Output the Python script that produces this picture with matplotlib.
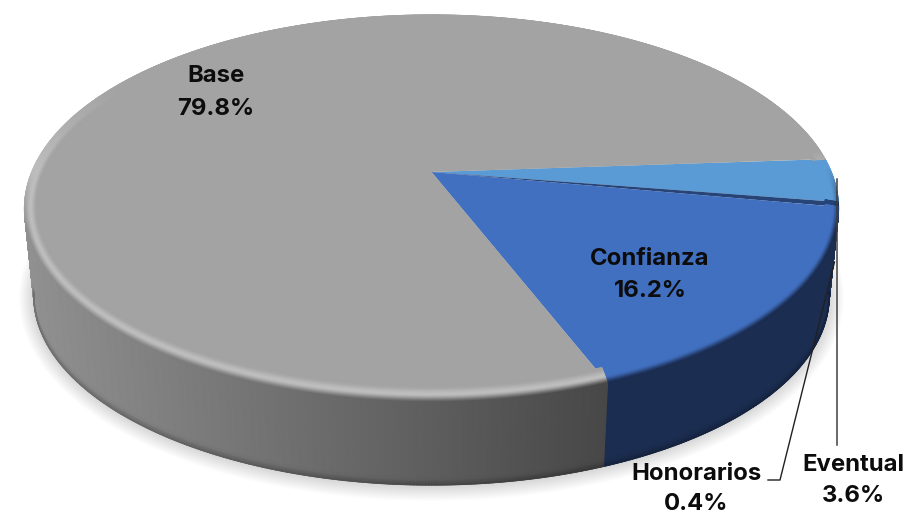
import numpy as np
import matplotlib
matplotlib.use('Agg')
import matplotlib.pyplot as plt
from matplotlib.collections import LineCollection

# clockwise from the start angle
labels = ['Eventual', 'Honorarios', 'Confianza', 'Base']
shares = [3.6, 0.4, 16.2, 79.8]
pct_text = ['3.6%', '0.4%', '16.2%', '79.8%']

face_colors = ['#5b9bd5', '#264478', '#4270c0', '#a3a3a3']
wall_colors = ['#24406a', '#14233f', '#1b2d50', None]
highlight = [1.0, 1.0, 1.0, 1.17]
# baselines of the two text rows
label_pos = [(853.5, 471, 502), (696.5, 480, 510), (650, 265, 297), (216, 82, 115)]

START = -4.0
APEX_X, APEX_Y = 431.5, 172.0
A, B, K = 399.7, 186.7, 0.189
BEV_X, BEV_Y = 13.0, 17.0
DEPTH, SHRINK = 88.0, 0.977


def rgb(c):
    return np.array(matplotlib.colors.to_rgb(c))


def top_xy(t, u=0.0):
    x, y = np.cos(t), np.sin(t)
    w = 1 - K * y
    return APEX_X + (A - BEV_X * u) * x / w, APEX_Y + (B - BEV_Y * u * (1 - K)) * y / w


def low_xy(t, grow_x=0.0, grow_y=0.0):
    x, y = top_xy(t)
    x = APEX_X + (x - APEX_X) * SHRINK
    y = APEX_Y + (y - APEX_Y) * SHRINK + DEPTH
    # grow_* are used by the drop shadow only
    return x + grow_x * np.cos(t), y + grow_y * np.sin(t)


def wall_rgb(i, t):
    # t has any shape, result is (..., 3)
    if wall_colors[i] is not None:
        return np.ones(t.shape + (3,)) * rgb(wall_colors[i])
    x, _ = top_xy(t)
    g = (144 - 72 * (x - 30) / 573) / 255
    g = np.clip(g, 0.25, 0.6)
    return np.stack([g, g, g], axis=-1)


def edge_line(ax, x, y, cols, lw, z):
    pts = np.column_stack([x, y]).reshape(-1, 1, 2)
    segs = np.concatenate([pts[:-1], pts[1:]], axis=1)
    ax.add_collection(LineCollection(segs, colors=cols[:-1], linewidths=lw, zorder=z, capstyle='round'))


fig = plt.figure(figsize=(9.09, 5.14), dpi=100)
ax = fig.add_axes([0, 0, 1, 1])
ax.set_xlim(0, 909)
ax.set_ylim(514, 0)
ax.axis('off')

# soft shadow under the pie
circle = np.linspace(0, 2 * np.pi, 361)
for g in np.linspace(15, 0, 14):
    sx, sy = low_xy(circle, g, g)
    ax.fill(sx, sy + 1, color='black', alpha=0.013, lw=0, zorder=1)

edges = np.radians(START + np.concatenate([[0], np.cumsum(shares)]) * 3.6)

u_steps = np.linspace(0, 1, 25)
s_steps = np.linspace(0, 1, 21)
for i in range(len(shares)):
    t = np.linspace(edges[i], edges[i + 1], max(8, int(shares[i] * 10)))

    # side wall, only the part that faces the viewer
    front = t[np.sin(t) >= K - 0.02]
    if len(front) > 1:
        tt, ss = np.meshgrid(front, s_steps)
        x0, y0 = top_xy(tt)
        x1, y1 = low_xy(tt)
        wx = x0 + (x1 - x0) * ss
        wy = y0 + (y1 - y0) * ss
        col = wall_rgb(i, tt)
        dark = 1 - 0.25 * np.clip((ss - 0.94) / 0.06, 0, 1)
        col = col * dark[..., None]
        ax.pcolormesh(wx, wy, col, shading='gouraud', zorder=2)
        bx, by = low_xy(front)
        edge_line(ax, bx, by, wall_rgb(i, front) * 0.78, 1.0, 2.1)

    # flat top
    fx, fy = top_xy(t)
    ax.fill(np.r_[APEX_X, fx], np.r_[APEX_Y, fy], color=face_colors[i], lw=0, zorder=3)

    # rounded rim, only visible where the edge turns towards the viewer
    tt, uu = np.meshgrid(t, u_steps)
    rx, ry = top_xy(tt, uu)
    sn, cs = np.sin(tt), np.cos(tt)
    reach = np.where(cs > 0, 0.12, 0.5)
    vis = np.clip((sn + reach) / reach, 0, 1)
    face = rgb(face_colors[i])
    rim = np.clip(face * highlight[i], 0, 1)
    wall = wall_rgb(i, tt)
    # the outer edge only takes the wall colour towards the front
    mix = np.clip((sn + 0.02) / 0.32, 0, 1)[..., None]
    outer = rim + (wall - rim) * mix
    # u = 1 inner edge (face colour), 0.5 highlight, 0 outer edge
    a = np.clip(uu / 0.5, 0, 1)[..., None]
    a = a * a * (3 - 2 * a)
    c = np.clip((uu - 0.5) / 0.5, 0, 1)[..., None]
    c = c * c * (3 - 2 * c)
    col = np.where((uu < 0.5)[..., None], outer + (rim - outer) * a, rim + (face - rim) * c)
    col = face + (col - face) * vis[..., None]
    ax.pcolormesh(rx, ry, col, shading='gouraud', zorder=4)
    edge_line(ax, rx[0], ry[0], col[0], 0.8, 4.1)

# leader lines
ax.plot([836.5, 836.5], [179, 445], color='#404040', lw=1.1, zorder=5)
ax.plot([768, 780, 834.5], [480, 480, 262], color='#202020', lw=1.0, zorder=5)

for name, pct, (x, y0, y1) in zip(labels, pct_text, label_pos):
    ax.text(x, y0, name, ha='center', va='baseline', fontsize=17.2, fontweight='bold',
            family='Inter', color='#0c0c0c', zorder=6)
    ax.text(x, y1, pct, ha='center', va='baseline', fontsize=17.2, fontweight='bold',
            family='Inter', color='#0c0c0c', zorder=6)

fig.savefig('out.png', dpi=100)
